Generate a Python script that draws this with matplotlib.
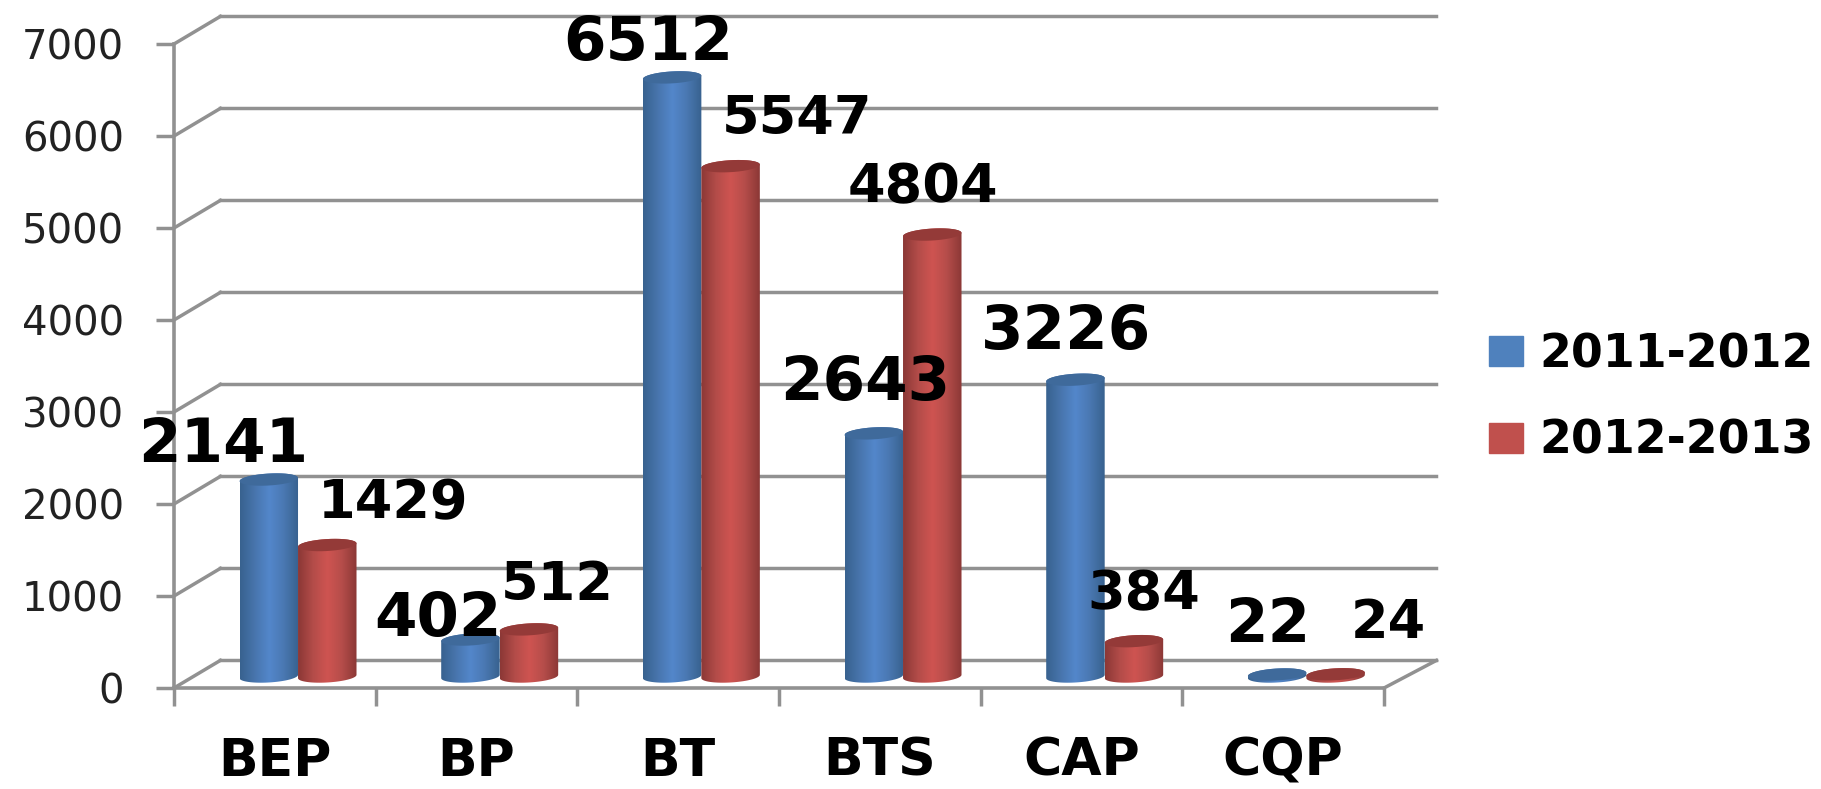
"""Two-series cylinder column chart drawn on a flat axes with a faked depth."""

import numpy as np
import matplotlib

matplotlib.use("Agg")
import matplotlib.pyplot as plt
from matplotlib.colors import LinearSegmentedColormap
from matplotlib.patches import Patch
from matplotlib.path import Path

categories = ["BEP", "BP", "BT", "BTS", "CAP", "CQP"]
values_2011 = [2141, 402, 6512, 2643, 3226, 22]
values_2012 = [1429, 512, 5547, 4804, 384, 24]
y_ticks = [0, 1000, 2000, 3000, 4000, 5000, 6000, 7000]
series_names = ["2011-2012", "2012-2013"]

# label offsets from the top of each column, in pixels
label_dx_2011 = [-46, -32, -24, -9, -9, -9]
label_dy_2011 = [34, 20, 34, 50, 47, 49]
label_dx_2012 = [66, 28, 66, -9, 10, 53]
label_dy_2012 = [42, 44, 47, 47, 47, 51]

W, H = 1821, 789
GRID = "#919191"
DEPTH_X, DEPTH_Y = 0.23, 300
BACK_RIGHT = 0.26
BAR_X, BAR_Y = 0.115, 125
BAR_W = 0.29
CAP_H = 65

blue_map = LinearSegmentedColormap.from_list(
    "blue", ["#38628f", "#4875ad", "#5387cb", "#4a78b2", "#38628f"]
)
red_map = LinearSegmentedColormap.from_list(
    "red", ["#8c3836", "#b34c49", "#cf5451", "#b54d4a", "#8c3836"]
)


def cylinder(ax, cx, value, cmap, cap_color):
    left, right = cx - BAR_W / 2, cx + BAR_W / 2
    base = BAR_Y
    top = BAR_Y + value
    t = np.linspace(0, np.pi, 40)
    xs = cx + np.cos(t) * BAR_W / 2
    tilt = np.cos(t) * 18
    outline = np.concatenate(
        [
            np.column_stack([xs, top + np.sin(t) * CAP_H + tilt]),
            np.column_stack([xs[::-1], base - np.sin(t) * CAP_H + tilt[::-1]]),
        ]
    )
    im = ax.imshow(
        np.linspace(0, 1, 64)[None, :],
        cmap=cmap,
        aspect="auto",
        extent=(left, right, base - CAP_H - 20, top + CAP_H + 20),
        zorder=3,
    )
    im.set_clip_path(Path(np.vstack([outline, outline[:1]])), ax.transData)

    cap = np.column_stack(
        [
            cx + np.cos(2 * t) * BAR_W / 2,
            top + np.sin(2 * t) * CAP_H + np.cos(2 * t) * 18,
        ]
    )
    ax.fill(cap[:, 0], cap[:, 1], color=cap_color, lw=0, zorder=4)


def draw_labels(ax, centers, values, dxs, dys, size):
    for cx, v, dx, dy in zip(centers, values, dxs, dys):
        ax.annotate(
            str(v),
            (cx, BAR_Y + v),
            xytext=(dx, dy),
            textcoords="offset pixels",
            ha="center",
            va="center",
            fontsize=size,
            fontweight="bold",
            color="black",
            zorder=6,
            annotation_clip=False,
        )


def main():
    fig = plt.figure(figsize=(W / 100, H / 100), dpi=100, facecolor="white")
    ax = fig.add_axes([174 / W, 1 - 688 / H, (1384 - 174) / W, (688 - 44) / H])
    n = len(categories)

    # back wall, side wall and floor
    for v in y_ticks:
        ax.plot(
            [DEPTH_X, n + BACK_RIGHT],
            [v + DEPTH_Y, v + DEPTH_Y],
            color=GRID,
            lw=2.5,
            clip_on=False,
            zorder=1,
        )
        ax.plot(
            [0, DEPTH_X],
            [v, v + DEPTH_Y],
            color=GRID,
            lw=2.5,
            clip_on=False,
            zorder=1,
        )
    ax.plot(
        [n, n + BACK_RIGHT], [0, DEPTH_Y], color=GRID, lw=2.5, clip_on=False, zorder=1
    )

    x = np.arange(n) + 0.5 + BAR_X
    centers_2011 = x - BAR_W / 2
    centers_2012 = x + BAR_W / 2
    for cx, v in zip(centers_2011, values_2011):
        cylinder(ax, cx, v, blue_map, "#3f6a9b")
    for cx, v in zip(centers_2012, values_2012):
        cylinder(ax, cx, v, red_map, "#943a38")

    ax.set_xlim(0, n)
    ax.set_ylim(0, 7000)
    ax.patch.set_visible(False)
    for side in ["top", "right"]:
        ax.spines[side].set_visible(False)
    for side in ["left", "bottom"]:
        ax.spines[side].set_color(GRID)
        ax.spines[side].set_linewidth(2.6)

    ax.set_yticks(y_ticks)
    ax.set_xticks(range(n + 1))
    ax.set_xticklabels([])
    ax.set_xticks(np.arange(n) + 0.5, categories, minor=True)
    ax.tick_params(axis="y", length=13, width=2.5, color=GRID, pad=23,
                   labelsize=29, labelcolor="#222222")
    ax.tick_params(axis="x", which="major", length=13, width=2.5, color=GRID)
    ax.tick_params(axis="x", which="minor", length=0, pad=35, labelsize=37.5)
    for label in ax.get_xticklabels(minor=True):
        label.set_fontweight("bold")

    draw_labels(ax, centers_2011, values_2011, label_dx_2011, label_dy_2011, 44)
    draw_labels(ax, centers_2012, values_2012, label_dx_2012, label_dy_2012, 39)

    handles = [Patch(color="#4f81bd"), Patch(color="#c0504d")]
    fig.legend(
        handles,
        series_names,
        loc="center left",
        bbox_to_anchor=(1489 / W, 1 - 398 / H),
        frameon=False,
        prop={"weight": "bold", "size": 33},
        handlelength=0.74,
        handleheight=0.63,
        handletextpad=0.35,
        labelspacing=0.9,
        borderpad=0,
        borderaxespad=0,
    )

    fig.savefig("out.png", dpi=100)


if __name__ == "__main__":
    main()
